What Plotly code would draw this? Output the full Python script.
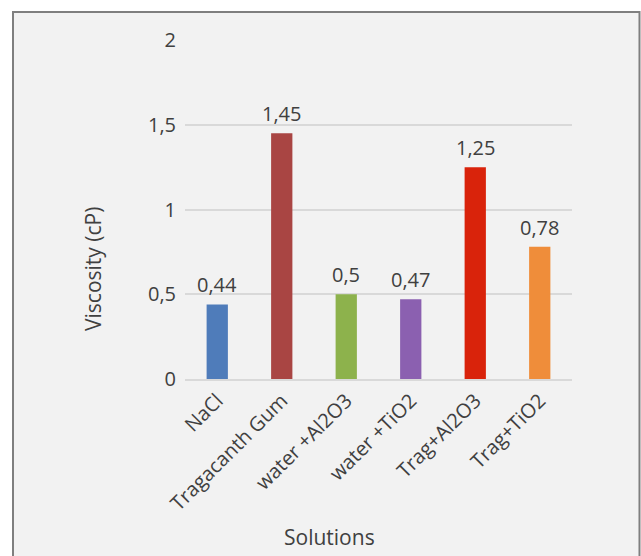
import plotly.graph_objects as go

categories = ["NaCl", "Tragacanth Gum", "water +Al2O3", "water +TiO2", "Trag+Al2O3", "Trag+TiO2"]
viscosity = [0.44, 1.45, 0.5, 0.47, 1.25, 0.78]
bar_colors = ["#4f7cba", "#a94543", "#8db24c", "#8b60b0", "#d9230b", "#ef8d3a"]
y_ticks = [0, 0.5, 1, 1.5, 2]

labels = [("%g" % v).replace(".", ",") for v in viscosity]
tick_text = [("%g" % v).replace(".", ",") for v in y_ticks]

W, H = 641, 556
L, R, T, B = 185, 69, 40, 177
pw, ph = W - L - R, H - T - B

def px(x):
    return (x - L) / pw

def py(y):
    return (H - B - y) / ph

font_family = "Open Sans, sans-serif"
txt_color = "#404040"

fig = go.Figure()
fig.add_trace(go.Bar(
    x=categories, y=viscosity,
    marker=dict(color=bar_colors, line=dict(width=0)),
    width=0.33,
))

annotations = [
    dict(x=c, y=v, text=t, xref="x", yref="y", showarrow=False,
         yanchor="bottom", xanchor="center", yshift=4,
         font=dict(size=20, color=txt_color))
    for c, v, t in zip(categories, viscosity, labels)
]
annotations += [
    dict(text="Viscosity (cP)", xref="paper", yref="paper", x=px(93), y=py(269),
         textangle=-90, showarrow=False, font=dict(size=21, color=txt_color),
         xanchor="center", yanchor="middle"),
    dict(text="Solutions", xref="paper", yref="paper", x=px(329), y=py(537),
         showarrow=False, font=dict(size=21, color=txt_color),
         xanchor="center", yanchor="middle"),
]

fig.update_layout(
    width=W, height=H,
    margin=dict(l=L, r=R, t=T, b=B, pad=0),
    paper_bgcolor="white",
    plot_bgcolor="rgba(0,0,0,0)",
    showlegend=False,
    font=dict(family=font_family, size=20, color=txt_color),
    xaxis=dict(
        tickangle=-45, showgrid=False, showline=True, linecolor="#d9d9d9", linewidth=2,
        ticks="", tickfont=dict(size=20, color=txt_color), fixedrange=True,
    ),
    yaxis=dict(
        range=[0, 2], tickvals=y_ticks, ticktext=tick_text, showgrid=True,
        gridcolor="#d9d9d9", gridwidth=2, zeroline=False, showline=False,
        ticks="", ticklabelstandoff=8, tickfont=dict(size=20, color=txt_color),
    ),
    shapes=[dict(
        type="rect", xref="paper", yref="paper", layer="below",
        x0=px(13), x1=px(639.5), y0=py(12), y1=py(570),
        fillcolor="#f2f2f2", line=dict(color="#7f7f7f", width=2),
    )],
    annotations=annotations,
)

fig.write_html("out.html")
